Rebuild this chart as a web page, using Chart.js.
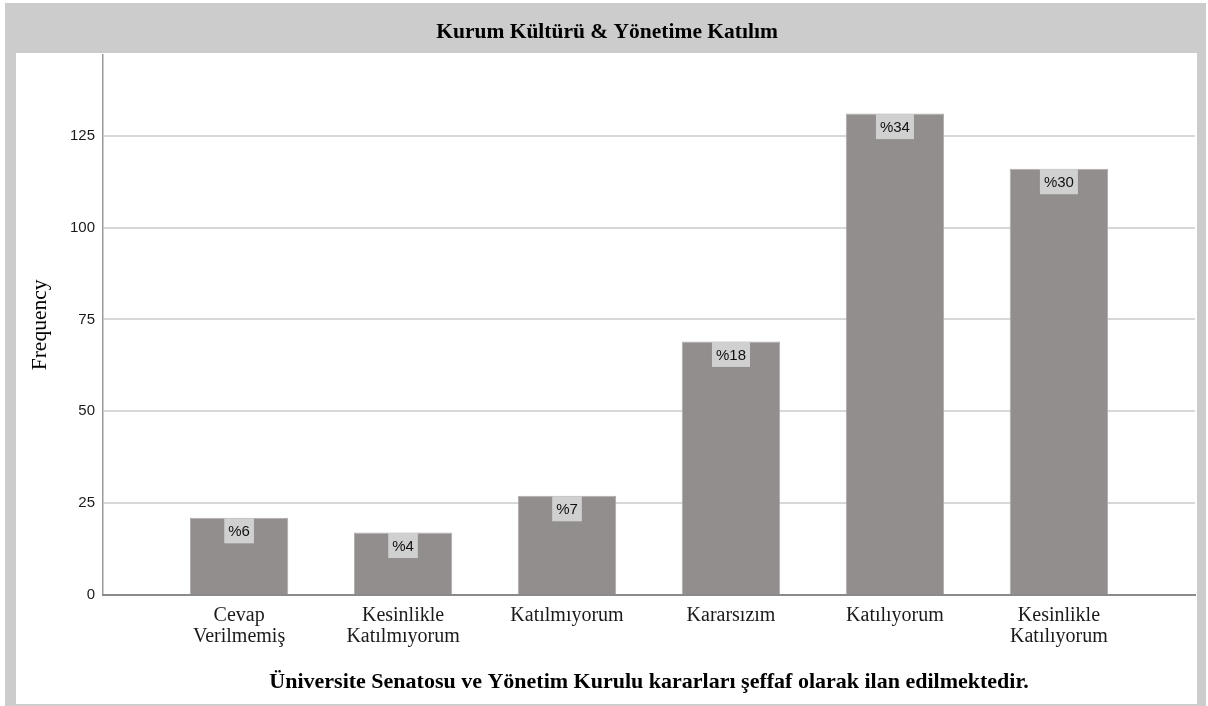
<!DOCTYPE html>
<html><head><meta charset="utf-8">
<script src="https://cdn.jsdelivr.net/npm/chart.js@4.4.0/dist/chart.umd.min.js"></script>
<style>html,body{margin:0;padding:0;background:#fff;} canvas{display:block;}</style>
</head><body>
<canvas id="c" width="1208" height="706"></canvas>
<script>
const chartTitle = 'Kurum Kültürü & Yönetime Katılım';
const xAxisTitle = 'Üniversite Senatosu ve Yönetim Kurulu kararları şeffaf olarak ilan edilmektedir.';
const yAxisTitle = 'Frequency';
const categories = [['Cevap', 'Verilmemiş'], ['Kesinlikle', 'Katılmıyorum'], 'Katılmıyorum', 'Kararsızım', 'Katılıyorum', ['Kesinlikle', 'Katılıyorum']];
const frequencies = [21, 17, 27, 69, 131, 116];
const percentLabels = ['%6', '%4', '%7', '%18', '%34', '%30'];
const yTicks = [0, 25, 50, 75, 100, 125];
const yMax = 147;

const serif = "'Liberation Serif', 'Times New Roman', serif";
const sans = "'Liberation Sans', Arial, sans-serif";

const framePlugin = {
  id: 'frame',
  beforeDraw(chart) {
    const ctx = chart.ctx;
    ctx.save();
    ctx.fillStyle = '#ffffff';
    ctx.fillRect(0, 0, chart.width, chart.height);
    ctx.fillStyle = '#cccccc';
    ctx.fillRect(5, 3, 1201, 703);
    ctx.fillStyle = '#ffffff';
    ctx.fillRect(16, 53, 1181, 651);
    ctx.restore();
  }
};

const pctPlugin = {
  id: 'pctLabels',
  afterDatasetsDraw(chart) {
    const ctx = chart.ctx;
    const meta = chart.getDatasetMeta(0);
    ctx.save();
    ctx.font = '15px ' + sans;
    ctx.textAlign = 'center';
    ctx.textBaseline = 'middle';
    meta.data.forEach((el, i) => {
      const txt = percentLabels[i];
      const w = ctx.measureText(txt).width + 8;
      const h = 25;
      ctx.fillStyle = '#d0d0d0';
      ctx.fillRect(el.x - w / 2, el.y + 0.5, w, h);
      ctx.fillStyle = '#111111';
      ctx.fillText(txt, el.x, el.y + 0.5 + h / 2 + 1);
    });
    ctx.restore();
  }
};

new Chart(document.getElementById('c'), {
  type: 'bar',
  data: {
    datasets: [{
      data: frequencies.map((v, i) => ({ x: i, y: v })),
      backgroundColor: '#928e8d',
      borderColor: '#aeaaa9',
      borderWidth: 1,
      barPercentage: 0.6,
      categoryPercentage: 1.0
    }]
  },
  plugins: [framePlugin, pctPlugin],
  options: {
    responsive: false,
    devicePixelRatio: 1,
    animation: false,
    layout: { padding: { left: 19, right: 13, top: 0, bottom: 0 } },
    plugins: {
      legend: { display: false },
      tooltip: { enabled: false },
      title: {
        display: true,
        text: chartTitle,
        color: '#000000',
        font: { family: serif, size: 21.5, weight: 'bold', lineHeight: 1.2 },
        padding: { top: 20, bottom: 9 }
      }
    },
    scales: {
      x: {
        type: 'linear',
        offset: false,
        min: -0.83,
        max: 5.83,
        bounds: 'data',
        afterBuildTicks(scale) { scale.ticks = categories.map((_, i) => ({ value: i })); },
        afterFit(scale) { scale.height = 111; },
        grid: { display: false, drawTicks: false },
        border: { display: true, color: '#8a8a8a', width: 2, z: 1 },
        ticks: {
          autoSkip: false,
          maxRotation: 0,
          minRotation: 0,
          padding: 10,
          color: '#1a1a1a',
          font: { family: serif, size: 20, lineHeight: 1.05 },
          callback: (v) => categories[v]
        },
        title: {
          display: true,
          text: xAxisTitle,
          color: '#000000',
          font: { family: serif, size: 22, weight: 'bold', lineHeight: 1.2 },
          padding: { top: 0, bottom: 10 }
        }
      },
      y: {
        min: 0,
        max: yMax,
        afterBuildTicks(scale) { scale.ticks = yTicks.map(v => ({ value: v })); },
        afterFit(scale) { scale.width = 84; },
        grid: { color: '#d8d8d8', lineWidth: 2, drawTicks: false },
        border: { display: true, color: '#9a9a9a', width: 1.5 },
        ticks: {
          padding: 8,
          color: '#1a1a1a',
          font: { family: sans, size: 15 }
        },
        title: {
          display: true,
          text: yAxisTitle,
          color: '#000000',
          font: { family: serif, size: 21.5, lineHeight: 1.2 },
          padding: { top: 8, bottom: 0 }
        }
      }
    }
  }
});
</script>
</body></html>
